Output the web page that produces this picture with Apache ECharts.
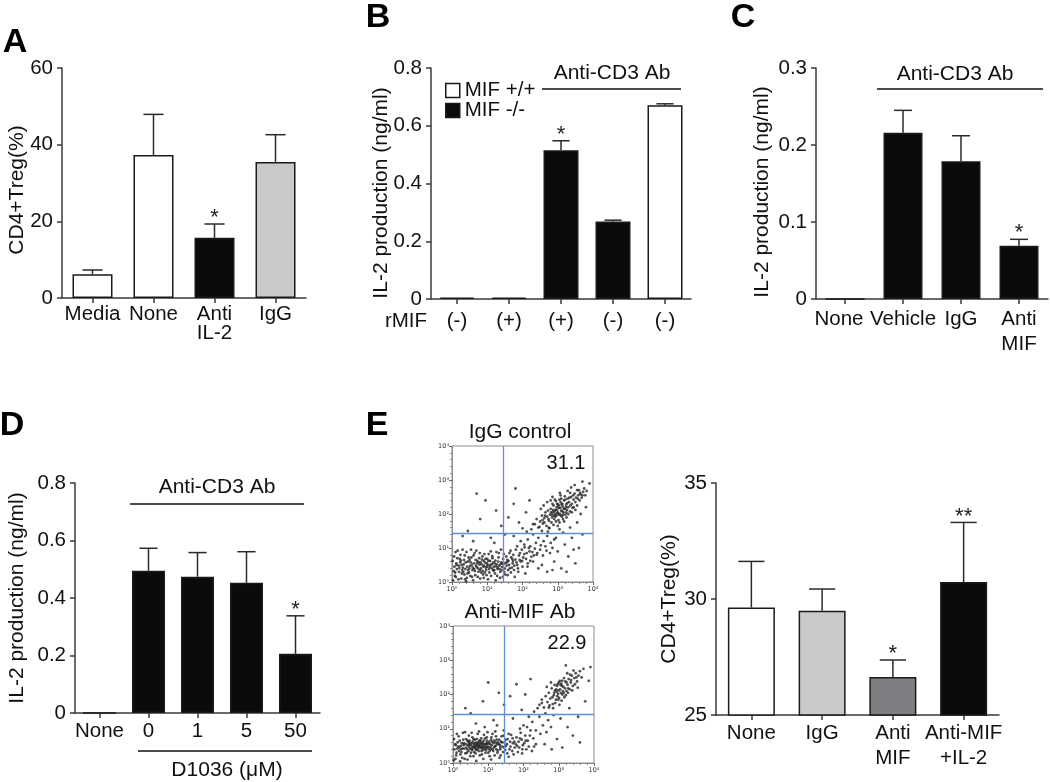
<!DOCTYPE html>
<html><head><meta charset="utf-8">
<script src="https://cdn.jsdelivr.net/npm/echarts@6/dist/echarts.min.js"></script>
<style>html,body{margin:0;padding:0;background:#fff}#c{width:1050px;height:782px}</style>
</head><body><div id="c"></div>
<script>
// ---------- DATA ----------
// Panel A
const aCats = ['Media', 'None', 'Anti\nIL-2', 'IgG'];
const aVals = [6.2, 37.3, 15.7, 35.5];
const aErr = [7.3, 47.9, 19.3, 42.6];
const aStars = ['', '', '*', ''];
const aYTicks = [0, 20, 40, 60];
// Panel B
const bCats = ['(-)', '(+)', '(+)', '(-)', '(-)'];
const bKO = [0.005, 0.005, 0.515, 0.268, null];   // MIF -/-
const bWT = [null, null, null, null, 0.671];        // MIF +/+
const bErr = [null, null, 0.548, 0.273, 0.676];
const bStars = ['', '', '*', '', ''];
const bYTicks = [0, 0.2, 0.4, 0.6, 0.8];
// Panel C
const cCats = ['None', 'Vehicle', 'IgG', 'Anti\nMIF'];
const cVals = [0, 0.216, 0.179, 0.069];
const cErr = [null, 0.245, 0.212, 0.0775];
const cStars = ['', '', '', '*'];
const cYTicks = [0, 0.1, 0.2, 0.3];
// Panel D
const dCats = ['None', '0', '1', '5', '50'];
const dVals = [0, 0.495, 0.474, 0.453, 0.206];
const dErr = [null, 0.573, 0.558, 0.561, 0.338];
const dStars = ['', '', '', '', '*'];
const dYTicks = [0, 0.2, 0.4, 0.6, 0.8];
// Panel E (bar)
const eCats = ['None', 'IgG', 'Anti\nMIF', 'Anti-MIF\n+IL-2'];
const eVals = [29.63, 29.49, 26.64, 30.73];
const eErr = [31.62, 30.43, 27.37, 33.30];
const eStars = ['', '', '*', '**'];
const eYTicks = [25, 30, 35];
// Panel E (flow plots), log10 units [x, y, x, y, ...]
const flowTicks = [0, 1, 2, 3, 4];
const flowGate = [1.44, 1.42];
const flow1Pct = '31.1';
const flow2Pct = '22.9';
const flow1 = [
0.05,0.32,0.12,0.55,0.08,0.18,0.21,0.41,0.15,0.70,0.28,0.25,0.33,0.52,0.25,0.63,0.38,0.38,0.42,0.12,0.45,0.60,0.51,0.47,0.48,0.28,0.55,0.72,0.58,0.35,0.62,0.55,0.66,0.20,0.70,0.44,0.72,0.62,0.75,0.30,0.78,0.51,0.82,0.40,0.85,0.66,0.88,0.22,0.91,0.48,0.94,0.57,0.97,0.35,1.00,0.45,1.03,0.62,1.06,0.28,1.09,0.50,1.12,0.41,1.15,0.70,1.18,0.33,1.21,0.55,1.25,0.46,1.28,0.18,1.31,0.60,1.35,0.38,1.38,0.52,1.42,0.44,1.45,0.68,1.48,0.30,1.52,0.56,1.55,0.48,1.60,0.62,1.64,0.40,1.68,0.72,1.72,0.55,1.76,0.35,1.80,0.66,1.85,0.50,1.90,0.78,1.95,0.60,2.00,0.45,2.05,0.82,2.10,0.68,2.15,0.55,2.20,0.90,2.25,0.74,
0.03,0.05,0.18,0.08,0.10,0.88,0.30,0.95,0.36,0.78,0.40,0.02,0.60,0.05,0.64,0.85,0.80,0.10,0.92,0.82,1.02,0.08,1.10,0.90,1.24,0.05,1.33,0.85,1.44,0.15,1.58,0.20,1.66,0.92,1.78,0.15,1.88,0.30,1.98,0.95,2.08,0.25,2.30,0.60,2.35,0.98,2.40,0.80,
0.07,0.45,0.20,0.30,0.27,0.50,0.35,0.22,0.43,0.45,0.53,0.58,0.57,0.15,0.68,0.48,0.74,0.40,0.77,0.70,0.84,0.52,0.87,0.33,0.96,0.42,0.99,0.55,1.05,0.38,1.13,0.52,1.19,0.45,1.23,0.63,1.30,0.42,1.37,0.30,1.40,0.58,1.50,0.40,1.57,0.65,1.62,0.50,1.70,0.42,1.74,0.80,1.83,0.58,1.92,0.65,2.02,0.72,2.12,0.85,2.18,1.00,2.28,0.88,
0.14,0.38,0.23,0.58,0.31,0.42,0.46,0.35,0.50,0.65,0.63,0.38,0.71,0.55,0.81,0.58,0.89,0.45,0.93,0.28,1.01,0.50,1.08,0.62,1.16,0.36,1.27,0.52,1.34,0.48,1.46,0.52,
0.02,0.62,0.06,0.75,0.11,0.15,0.16,0.92,0.19,0.48,0.24,0.80,0.26,0.10,0.29,0.35,0.34,0.65,0.37,0.08,0.41,0.88,0.44,0.25,0.47,0.72,0.52,0.18,0.54,0.95,0.59,0.42,0.61,0.78,0.65,0.32,0.69,0.92,0.73,0.15,0.76,0.58,0.79,0.85,0.83,0.28,0.86,0.75,0.90,0.12,0.95,0.68,0.98,0.20,1.04,0.82,1.07,0.45,1.11,0.18,1.14,0.76,1.17,0.58,1.22,0.25,1.26,0.88,1.29,0.38,1.32,0.72,1.36,0.12,1.39,0.95,1.43,0.55,1.47,0.82,1.51,0.22,1.54,0.75,1.59,0.35,1.63,0.85,1.67,0.28,1.71,0.68,1.77,0.48,1.81,0.95,1.87,0.40,1.93,0.85,1.99,0.62,2.06,1.02,2.14,0.45,2.22,0.62,2.32,0.78,0.09,0.28,0.13,0.50,0.22,0.68,0.32,0.30,0.39,0.58,0.49,0.40,0.56,0.50,0.67,0.65,0.79,0.35,0.90,0.62,1.00,0.68,1.20,0.35,1.41,0.35,1.56,0.58,1.73,0.62,
2.05,1.10,2.15,1.25,2.22,1.05,2.30,1.40,2.38,1.15,2.45,1.30,2.50,0.95,2.55,1.50,2.60,1.20,2.65,1.05,2.70,1.35,2.75,1.60,2.80,1.15,2.48,1.62,2.35,1.70,2.62,1.75,2.25,1.55,2.12,1.48,2.42,0.85,2.58,0.78,2.68,0.92,2.78,0.85,2.85,1.00,2.90,1.25,1.95,1.20,1.85,1.05,1.75,1.35,2.00,1.58,2.52,1.08,2.72,1.48,
2.30,1.70,2.40,1.85,2.45,1.60,2.50,1.78,2.55,1.95,2.58,1.72,2.62,1.88,2.65,2.05,2.68,1.65,2.70,1.92,2.72,2.10,2.75,1.80,2.78,1.98,2.80,2.15,2.82,1.75,2.84,1.90,2.86,2.05,2.88,2.25,2.90,1.85,2.92,2.00,2.94,2.12,2.96,1.95,2.98,2.30,3.00,2.05,3.02,1.82,3.04,2.18,3.06,2.00,3.08,2.35,3.10,2.10,3.12,1.92,3.14,2.22,3.16,2.05,3.18,2.40,3.20,2.15,3.22,1.98,3.24,2.28,3.26,2.12,3.28,2.45,3.30,2.20,3.32,2.35,3.35,2.08,3.38,2.50,3.40,2.30,3.42,2.18,3.45,2.42,3.48,2.60,3.50,2.35,3.52,2.48,3.55,2.25,3.58,2.55,3.60,2.70,3.62,2.40,3.65,2.58,3.68,2.48,3.72,2.65,3.75,2.75,3.78,2.55,3.82,2.68,
2.88,1.68,2.95,1.78,3.02,2.25,3.05,1.75,3.10,2.45,3.15,1.85,3.20,2.52,3.25,1.90,3.30,2.00,3.35,2.62,3.40,2.05,3.45,2.20,3.50,2.12,3.55,2.70,2.60,2.25,2.70,2.35,2.80,2.40,2.52,2.15,2.76,1.58,2.92,2.42,3.00,1.65,3.08,2.55,3.18,1.78,3.28,2.68,3.38,2.78,3.48,2.85,2.85,2.50,2.98,2.12,3.03,1.98,3.12,2.08,3.07,2.18,2.93,1.92,2.87,2.12,3.13,2.30,3.23,2.20,2.99,2.02,3.01,2.28,3.09,1.95,3.17,2.15,3.27,2.32,2.83,1.98,2.91,2.08,
2.85,2.30,2.95,2.38,3.05,2.42,2.89,1.95,2.97,2.20,3.11,2.28,3.21,2.42,3.33,2.48,3.15,1.98,2.81,2.05,3.36,2.25,3.44,2.55,3.57,2.45,3.63,2.62,3.70,2.55,2.74,1.85,3.06,2.62,3.24,2.05,2.64,1.95,2.57,1.82,
0.45,1.50,0.80,1.85,1.10,1.30,1.25,2.10,0.60,1.20,1.40,1.65,0.95,2.40,1.60,1.90,0.30,1.35,1.75,2.30,1.20,1.15,0.70,2.60,1.50,1.40,1.90,1.75,2.10,2.05,2.20,2.40,1.80,2.75,
2.90,0.60,3.00,0.90,3.10,0.40,3.20,1.10,3.30,0.75,3.40,1.30,3.50,0.55,3.60,1.00,3.15,1.45,3.35,1.60,2.95,1.30,3.05,1.55,3.45,0.95,3.70,1.40,3.25,0.30,2.85,0.35,3.55,1.75,3.65,2.00,3.80,2.20,3.90,2.90,3.70,2.95,2.55,0.50,2.70,0.30,2.45,0.40
];
const flow2 = [
0.04,0.40,0.09,0.22,0.13,0.60,0.17,0.35,0.22,0.50,0.26,0.15,0.29,0.68,0.32,0.42,0.36,0.55,0.39,0.30,0.43,0.62,0.46,0.48,0.49,0.20,0.52,0.58,0.55,0.38,0.58,0.70,0.61,0.45,0.64,0.28,0.67,0.60,0.70,0.52,0.73,0.35,0.76,0.66,0.79,0.44,0.82,0.25,0.85,0.57,0.88,0.48,0.91,0.72,0.94,0.38,0.97,0.55,1.00,0.30,1.03,0.62,1.06,0.46,1.09,0.75,1.12,0.40,1.15,0.58,1.18,0.22,1.21,0.50,1.24,0.68,1.27,0.36,1.30,0.55,1.34,0.45,1.38,0.78,1.42,0.32,1.46,0.60,1.50,0.50,1.55,0.70,1.60,0.40,1.65,0.82,1.70,0.58,1.75,0.45,1.80,0.75,1.86,0.62,1.92,0.88,1.98,0.52,2.05,0.80,2.12,0.65,2.20,0.95,2.28,0.72,
0.02,0.08,0.11,0.85,0.20,0.05,0.34,0.90,0.41,0.10,0.53,0.88,0.66,0.06,0.74,0.92,0.86,0.12,0.98,0.90,1.08,0.10,1.20,0.92,1.32,0.15,1.44,0.95,1.58,0.18,1.72,0.25,1.84,0.32,1.96,0.28,2.08,0.40,2.24,0.35,2.35,0.55,
0.06,0.55,0.15,0.48,0.24,0.32,0.31,0.58,0.38,0.45,0.44,0.35,0.50,0.52,0.56,0.62,0.60,0.32,0.65,0.48,0.69,0.40,0.72,0.58,0.77,0.50,0.80,0.62,0.84,0.38,0.89,0.55,0.93,0.45,0.96,0.65,1.01,0.42,1.05,0.55,1.11,0.62,1.14,0.35,1.19,0.48,1.23,0.40,1.28,0.60,1.33,0.52,1.40,0.48,1.48,0.38,1.53,0.55,1.62,0.62,1.68,0.35,1.78,0.55,1.88,0.45,1.95,0.68,2.02,0.58,2.15,0.48,
0.10,0.30,0.19,0.65,0.27,0.42,0.35,0.28,0.42,0.52,0.47,0.65,0.54,0.45,0.59,0.55,0.63,0.42,0.68,0.70,0.75,0.45,0.81,0.35,0.87,0.65,0.92,0.52,0.99,0.48,1.04,0.35,1.10,0.52,1.17,0.65,1.25,0.55,1.36,0.62,1.45,0.45,0.57,0.48,0.71,0.46,0.83,0.50,0.62,0.58,0.48,0.42,0.78,0.55,0.90,0.40,
0.03,0.70,0.07,0.12,0.12,0.42,0.16,0.78,0.21,0.25,0.25,0.58,0.28,0.88,0.33,0.12,0.37,0.70,0.40,0.40,0.45,0.80,0.48,0.55,0.51,0.30,0.55,0.75,0.58,0.20,0.62,0.68,0.66,0.38,0.70,0.85,0.73,0.50,0.76,0.22,0.80,0.72,0.84,0.45,0.88,0.82,0.92,0.30,0.96,0.75,1.00,0.58,1.04,0.20,1.08,0.68,1.12,0.85,1.16,0.45,1.22,0.78,1.26,0.30,1.31,0.68,1.35,0.22,1.39,0.60,1.43,0.80,1.49,0.68,1.54,0.28,1.58,0.85,1.63,0.48,1.69,0.72,1.74,0.62,1.82,0.50,1.90,0.72,1.97,0.40,2.06,0.65,2.18,0.80,2.30,0.48,0.08,0.52,0.18,0.45,0.30,0.52,0.41,0.65,0.53,0.40,0.64,0.52,0.74,0.62,0.86,0.45,0.95,0.58,1.07,0.40,1.21,0.60,1.34,0.40,0.23,0.40,0.46,0.58,0.60,0.48,0.69,0.55,0.82,0.58,0.97,0.45,
2.10,1.05,2.25,1.20,2.35,0.95,2.45,1.35,2.55,1.10,2.62,1.45,2.70,1.25,2.40,1.60,2.52,1.75,2.30,1.50,2.15,1.35,2.65,0.90,2.78,1.05,2.85,1.40,2.00,1.10,1.90,1.00,2.48,0.85,2.72,1.62,
2.45,1.70,2.52,1.85,2.58,1.62,2.63,1.95,2.68,1.78,2.72,2.05,2.76,1.88,2.80,2.18,2.83,1.72,2.86,1.98,2.89,2.12,2.92,1.85,2.95,2.25,2.98,2.02,3.01,1.90,3.04,2.15,3.07,2.32,3.10,2.00,3.13,2.22,3.16,1.92,3.19,2.38,3.22,2.10,3.25,2.28,3.28,2.45,3.31,2.15,3.34,2.35,3.37,2.55,3.40,2.25,3.44,2.48,3.48,2.62,3.52,2.38,3.56,2.55,3.60,2.68,3.65,2.50,3.70,2.75,
2.90,1.75,2.97,2.30,3.03,2.40,3.08,1.82,3.15,2.48,3.20,1.98,3.26,2.05,3.32,2.58,3.38,2.12,3.46,2.30,3.54,2.20,2.66,2.22,2.78,2.35,2.84,1.60,3.00,2.12,3.06,2.05,3.12,2.10,2.94,2.08,3.18,2.18,2.88,2.28,3.02,1.70,3.24,2.62,3.42,2.70,2.74,1.68,2.96,1.95,3.09,2.25,
2.93,2.15,3.05,2.28,3.14,2.05,3.22,2.35,2.87,2.05,3.00,2.35,3.27,2.18,3.35,2.42,3.50,2.50,2.99,1.85,3.10,2.40,2.82,1.92,
0.50,1.45,0.85,1.80,1.15,1.25,1.30,2.05,0.65,1.15,1.45,1.70,1.00,2.35,1.62,1.95,0.35,1.60,1.80,2.30,1.25,1.10,2.05,2.00,1.70,1.30,1.95,1.55,2.20,2.45,0.90,1.05,
2.95,0.70,3.10,0.45,3.25,1.05,3.40,0.80,3.55,1.35,3.05,1.30,3.30,1.60,3.60,0.60,3.75,1.80,3.85,2.40,3.90,2.80,3.20,2.85,2.80,0.40,2.60,0.55
];

// ---------- STYLE ----------
const FF = '"Liberation Sans", Arial, Helvetica, sans-serif';
const INK = '#111';
const AX = '#3a3a3a';
const aColors = ['#ffffff', '#ffffff', '#0b0b0b', '#c9cacc'];
const eColors = ['#ffffff', '#c8c9cb', '#7e7f82', '#0b0b0b'];
const BLACK = '#0b0b0b';
const GATE = '#5f8fd4';

const pairs = a => { const r = []; for (let i = 0; i < a.length; i += 2) r.push([a[i], a[i + 1]]); return r; };

const grids = [
  {left: 62, top: 68, width: 244, height: 230},   // A
  {left: 431, top: 68, width: 260, height: 231},  // B
  {left: 816, top: 68, width: 232, height: 231},  // C
  {left: 75, top: 483, width: 245, height: 230},  // D
  {left: 716, top: 483, width: 283, height: 232}, // E bar
  {left: 452, top: 446, width: 141, height: 136, show: true, borderColor: '#8c8c8c', borderWidth: 1}, // flow 1
  {left: 453, top: 626, width: 141, height: 137, show: true, borderColor: '#8c8c8c', borderWidth: 1}  // flow 2
];

function catAxis(gi, cats, margin, lh, shift) {
  const ax = {
    type: 'category', gridIndex: gi, data: cats,
    axisLine: {show: true, lineStyle: {color: AX, width: 1.5}},
    axisTick: {show: true, alignWithLabel: true, length: 5, lineStyle: {color: AX, width: 1.5}},
    axisLabel: {interval: 0, fontSize: 20.5, fontFamily: FF, color: INK, margin: margin, lineHeight: lh},
    splitLine: {show: false}
  };
  if (shift) {
    ax.axisLabel.formatter = v => shift[v] ? '{s|' + v + '}' : v;
    ax.axisLabel.rich = {s: {fontSize: 20.5, fontFamily: FF, color: INK, lineHeight: lh, padding: [0, 12, 0, 0]}};
  }
  return ax;
}
function valAxis(gi, ticks) {
  return {
    type: 'value', gridIndex: gi, min: ticks[0], max: ticks[ticks.length - 1], interval: ticks[1] - ticks[0],
    axisLine: {show: true, lineStyle: {color: AX, width: 1.5}},
    axisTick: {show: true, length: 5, lineStyle: {color: AX, width: 1.5}},
    axisLabel: {fontSize: 20.5, fontFamily: FF, color: INK, margin: 9,
      formatter: v => String(Math.round(v * 1000) / 1000)},
    splitLine: {show: false}
  };
}
const sup = ['\u2070', '\u00b9', '\u00b2', '\u00b3', '\u2074'];
function flowAxis(gi, dim) {
  return {
    type: 'value', gridIndex: gi, min: flowTicks[0], max: flowTicks[flowTicks.length - 1], interval: 1,
    axisLine: {show: true, lineStyle: {color: '#8c8c8c', width: 1}},
    axisTick: {show: true, length: 3, lineStyle: {color: '#666'}},
    minorTick: {show: true, splitNumber: 5, length: 2, lineStyle: {color: '#888'}},
    axisLabel: {fontSize: 6.5, fontFamily: '"DejaVu Sans", sans-serif', color: '#333', margin: dim === 'x' ? 4 : 3,
      formatter: v => '10' + sup[v]},
    splitLine: {show: false}
  };
}

function errRender(capRatio, stars) {
  return function (params, api) {
    const i = api.value(0), v = api.value(1), e = api.value(2);
    const p0 = api.coord([i, v]), p1 = api.coord([i, e]);
    const hw = api.size([1, 0])[0] * capRatio / 2;
    const st = {stroke: '#2a2a2a', lineWidth: 1.5};
    const ch = [
      {type: 'line', shape: {x1: p0[0], y1: p0[1], x2: p1[0], y2: p1[1]}, style: st},
      {type: 'line', shape: {x1: p0[0] - hw, y1: p1[1], x2: p0[0] + hw, y2: p1[1]}, style: st}
    ];
    const s = stars[i];
    if (s) ch.push({type: 'text', style: {text: s, x: p0[0], y: p1[1] - 6, align: 'center', verticalAlign: 'middle',
      fontSize: 22, fontFamily: FF, fill: '#222', letterSpacing: 2}});
    return {type: 'group', children: ch};
  };
}
function errSeries(gi, vals, errs, stars, capRatio) {
  const data = [];
  errs.forEach((e, i) => { if (e != null) data.push([i, vals[i], e]); });
  return {type: 'custom', xAxisIndex: gi, yAxisIndex: gi, z: 5, silent: true,
    renderItem: errRender(capRatio, stars), data: data};
}
function barSeries(gi, vals, colors, w, name) {
  const s = {type: 'bar', xAxisIndex: gi, yAxisIndex: gi, barWidth: w, silent: true,
    itemStyle: {borderColor: '#1a1a1a', borderWidth: 1.5}};
  if (name) s.name = name;
  if (Array.isArray(colors)) {
    s.data = vals.map((v, i) => v == null ? '-' : {value: v, itemStyle: {color: colors[i]}});
  } else {
    s.itemStyle.color = colors;
    s.data = vals.map(v => v == null ? '-' : v);
  }
  return s;
}
function flowSeries(gi, pts) {
  return {type: 'scatter', xAxisIndex: gi, yAxisIndex: gi, data: pairs(pts), symbolSize: 2.8, silent: true, z: 2,
    itemStyle: {color: '#262626'},
    markLine: {silent: true, symbol: 'none', z: 3, label: {show: false}, animation: false,
      lineStyle: {color: GATE, width: 1.3, type: 'solid', opacity: 1},
      emphasis: {disabled: true},
      data: [{xAxis: flowGate[0]}, {yAxis: flowGate[1]}]}};
}

const bVals = bKO.map((v, i) => v != null ? v : bWT[i]);

const series = [
  barSeries(0, aVals, aColors, 40), errSeries(0, aVals, aErr, aStars, 0.33),
  Object.assign(barSeries(1, bWT, '#ffffff', 35, 'MIF +/+'), {barGap: '-100%'}),
  Object.assign(barSeries(1, bKO, BLACK, 35, 'MIF -/-'), {barGap: '-100%'}),
  errSeries(1, bVals, bErr, bStars, 0.33),
  barSeries(2, cVals, BLACK, 39), errSeries(2, cVals, cErr, cStars, 0.31),
  barSeries(3, dVals, BLACK, 33), errSeries(3, dVals, dErr, dStars, 0.37),
  barSeries(4, eVals, eColors, 47), errSeries(4, eVals, eErr, eStars, 0.37),
  flowSeries(5, flow1), flowSeries(6, flow2)
];

const T = (x, y, text, o) => ({type: 'text', x: x, y: y, z: 10, style: Object.assign({text: text, fontSize: 21, fontFamily: FF, fill: INK, align: 'center', verticalAlign: 'middle'}, o || {})});
const VT = (x, y, text) => ({type: 'text', x: x, y: y, rotation: Math.PI / 2, z: 10, style: {text: text, fontSize: 21, fontFamily: FF, fill: INK, align: 'center', verticalAlign: 'middle'}});
const L = (x1, y1, x2, y2) => ({type: 'line', z: 10, shape: {x1: x1, y1: y1, x2: x2, y2: y2}, style: {stroke: INK, lineWidth: 1.5}});
const P = (x, y, t) => T(x, y, t, {fontSize: 34, fontWeight: 'bold', fill: '#000'});

const graphic = [
  P(15, 43, 'A'), P(378, 18, 'B'), P(743, 18, 'C'), P(12, 426, 'D'), P(377, 426, 'E'),
  VT(17, 190, 'CD4+Treg(%)'), VT(381, 193, 'IL-2 production (ng/ml)'), VT(762, 192, 'IL-2 production (ng/ml)'),
  VT(17, 598, 'IL-2 production (ng/ml)'), VT(669, 599, 'CD4+Treg(%)'),
  T(612, 73, 'Anti-CD3 Ab'), L(542, 89, 681, 89),
  T(955, 74, 'Anti-CD3 Ab'), L(877, 89, 1043, 89),
  T(217, 487, 'Anti-CD3 Ab'), L(130, 504, 304, 504),
  L(138, 751, 312, 751), T(227, 770, 'D1036 (\u03bcM)'),
  T(406, 321, 'rMIF', {fontSize: 20.5}),
  T(520, 432, 'IgG control'), T(520, 612, 'Anti-MIF Ab'),
  T(566, 463, flow1Pct, {fontSize: 20}), T(567, 643, flow2Pct, {fontSize: 20})
];

const option = {
  animation: false,
  backgroundColor: '#ffffff',
  textStyle: {fontFamily: FF},
  grid: grids,
  legend: {
    data: [
      {name: 'MIF +/+', itemStyle: {color: '#ffffff', borderColor: '#1a1a1a', borderWidth: 1.5}},
      {name: 'MIF -/-', itemStyle: {color: BLACK, borderColor: '#1a1a1a', borderWidth: 1.5}}
    ],
    orient: 'vertical', left: 440, top: 75, itemWidth: 14, itemHeight: 14,
    itemGap: -1, icon: 'rect', selectedMode: false,
    textStyle: {fontSize: 20.5, color: INK, fontFamily: FF, lineHeight: 20}
  },
  xAxis: [
    catAxis(0, aCats, 7, 19), catAxis(1, bCats, 12, 20), catAxis(2, cCats, 8, 25, {'None': true}),
    catAxis(3, dCats, 8, 20), catAxis(4, eCats, 6, 25), flowAxis(5, 'x'), flowAxis(6, 'x')
  ],
  yAxis: [
    valAxis(0, aYTicks), valAxis(1, bYTicks), valAxis(2, cYTicks), valAxis(3, dYTicks), valAxis(4, eYTicks),
    flowAxis(5, 'y'), flowAxis(6, 'y')
  ],
  series: series,
  graphic: graphic
};

const chart = echarts.init(document.getElementById('c'), null, {renderer: 'canvas'});
chart.setOption(option);
</script>
</body></html>
